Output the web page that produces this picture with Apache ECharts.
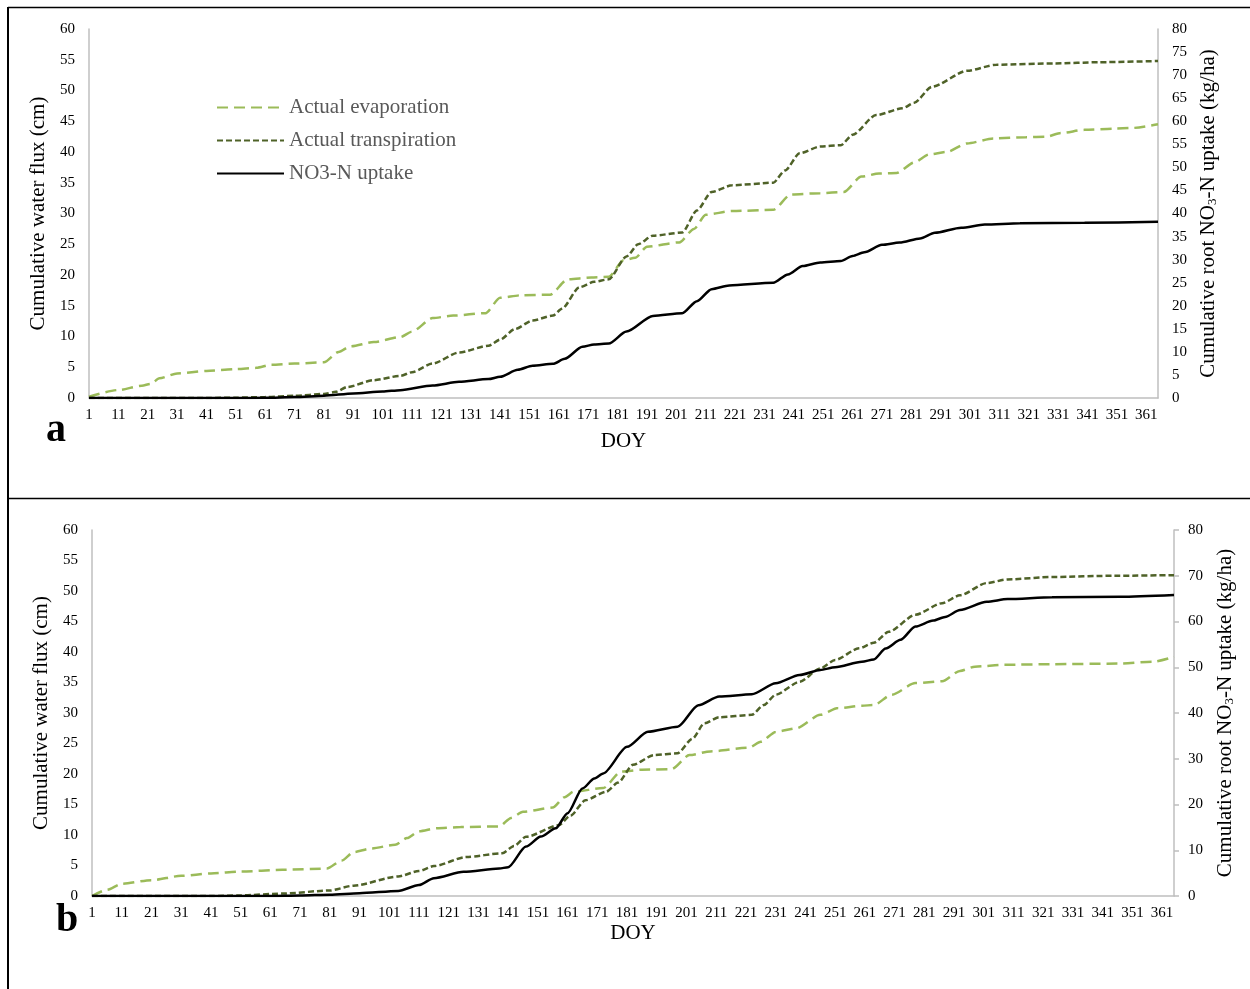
<!DOCTYPE html>
<html>
<head>
<meta charset="utf-8">
<script src="https://cdn.jsdelivr.net/npm/echarts@6/dist/echarts.min.js"></script>
<style>
html, body { margin: 0; padding: 0; background: #fff; }
#chart { width: 1250px; height: 989px; }
</style>
</head>
<body>
<div id="chart"></div>
<script>
// DOY categories 1..365
var doy = [];
for (var d = 1; d <= 365; d++) doy.push(String(d));

// panel a, cumulative water flux (cm), [DOY, value]
var evapA = [[1,0.2],[11,1.3],[19,2.0],[22,2.3],[25,3.2],[31,4.0],[41,4.4],[51,4.7],[58,4.9],[63,5.4],[71,5.6],[81,5.8],
	[86,7.5],[90,8.4],[98,9.1],[107,9.9],[111,10.8],[118,13.0],[125,13.4],[136,13.8],[141,16.3],[148,16.7],[158,16.8],
	[164,19.3],[172,19.6],[178,19.7],[183,22.4],[187,22.8],[191,24.6],[202,25.3],[207,27.5],[211,29.8],[220,30.4],
	[234,30.6],[240,33.1],[250,33.3],[258,33.5],[264,36.0],[270,36.5],[276,36.6],[282,38.3],[287,39.6],[293,40.0],
	[300,41.4],[309,42.2],[320,42.4],[327,42.5],[332,43.1],[340,43.6],[350,43.8],[356,43.9],[365,44.5]];
var transA = [[1,0],[21,0],[41,0],[51,0.05],[61,0.15],[71,0.35],[81,0.65],[85,1.0],[89,1.8],[98,2.9],[107,3.6],[111,4.2],
	[118,5.6],[127,7.4],[137,8.5],[141,9.5],[146,11.2],[152,12.6],[159,13.4],[162,14.5],[168,18.0],[173,18.9],[178,19.3],
	[184,23.0],[188,25.0],[193,26.4],[203,26.9],[208,30.5],[213,33.5],[220,34.6],[234,35.0],[238,37.0],[243,39.8],
	[250,40.9],[257,41.1],[261,42.8],[269,46.0],[278,47.1],[282,48.0],[288,50.6],[300,53.2],[310,54.2],[330,54.4],
	[345,54.6],[365,54.8]];
// panel a, cumulative root NO3-N uptake (kg/ha)
var no3A = [[1,0],[31,0],[51,0],[61,0.05],[71,0.2],[81,0.5],[91,1.0],[101,1.4],[107,1.7],[118,2.7],[127,3.5],[137,4.1],
	[141,4.6],[147,6.1],[152,7.0],[159,7.4],[163,8.5],[169,11.1],[173,11.6],[178,11.8],[184,14.4],[193,17.8],[203,18.4],
	[208,21.0],[213,23.6],[219,24.4],[234,25.0],[239,26.8],[244,28.6],[250,29.4],[257,29.7],[261,30.8],[265,31.6],
	[271,33.2],[277,33.7],[284,34.6],[289,35.8],[298,36.9],[306,37.6],[318,37.9],[340,38.0],[365,38.2]];

// panel b
var evapB = [[1,0],[6,1.0],[11,2.0],[21,2.6],[31,3.3],[41,3.7],[51,4.0],[65,4.3],[80,4.5],[85,5.8],[89,7.2],[95,7.8],
	[103,8.4],[107,9.5],[111,10.6],[117,11.1],[125,11.3],[138,11.4],[142,12.8],[146,13.8],[156,14.5],[160,16.2],
	[163,17.1],[173,17.7],[179,20.4],[186,20.7],[196,20.8],[202,23.1],[209,23.7],[222,24.3],[226,25.3],[231,26.9],
	[238,27.5],[246,29.7],[252,30.8],[260,31.2],[264,31.3],[270,33.0],[278,34.9],[287,35.2],[293,36.9],[298,37.6],
	[308,37.9],[324,38.0],[346,38.1],[358,38.4],[365,39.2]];
var transB = [[1,0],[41,0],[51,0.1],[65,0.4],[81,0.9],[89,1.7],[104,3.2],[111,4.1],[116,4.9],[127,6.4],[139,7.0],
	[143,8.2],[147,9.7],[158,11.6],[162,13.2],[167,15.7],[174,17.1],[178,18.6],[183,21.5],[190,23.1],[198,23.4],
	[203,25.8],[207,28.3],[212,29.3],[223,29.7],[227,31.3],[231,33.0],[239,35.1],[246,37.3],[251,38.7],[259,40.6],
	[264,41.5],[269,43.3],[278,46.1],[287,48.0],[293,49.3],[302,51.3],[309,51.9],[324,52.3],[345,52.5],[365,52.6]];
var no3B = [[1,0],[61,0],[71,0.1],[81,0.3],[91,0.6],[104,1.1],[111,2.4],[116,3.9],[126,5.3],[138,6.0],[141,6.3],
	[147,10.8],[152,13.0],[157,14.8],[161,18.1],[166,23.5],[170,25.7],[173,26.8],[181,32.6],[188,35.9],[198,37.0],
	[205,41.7],[212,43.6],[223,44.1],[231,46.5],[239,48.3],[246,49.4],[251,50.0],[260,51.2],[264,51.7],[268,54.1],
	[273,56.0],[278,58.9],[284,60.2],[288,61.0],[293,62.5],[302,64.3],[309,64.9],[324,65.3],[347,65.4],[365,65.8]];

var font = '"Liberation Serif", "Times New Roman", serif';
var axisGray = '#bfbfbf';
var lightGreen = '#9bbb59';
var darkGreen = '#4f6228';

function toPairs(arr) {
	return arr.map(function (p) { return [String(p[0]), p[1]]; });
}

function xAxis(gridIndex, nameGap) {
	return {
		type: 'category', gridIndex: gridIndex, data: doy, boundaryGap: false,
		name: 'DOY', nameLocation: 'middle', nameGap: nameGap,
		nameTextStyle: { fontFamily: font, fontSize: 21, color: '#000' },
		axisLine: { lineStyle: { color: axisGray, width: 1.5 } },
		axisTick: { show: false },
		axisLabel: { interval: 9, margin: 10, fontFamily: font, fontSize: 15, color: '#000', hideOverlap: false },
		splitLine: { show: false }
	};
}

function yAxis(gridIndex, pos, max, interval, name, nameGap, ticks) {
	return {
		type: 'value', gridIndex: gridIndex, position: pos, min: 0, max: max, interval: interval,
		name: name, nameLocation: 'middle', nameGap: nameGap, nameRotate: 90,
		nameTextStyle: {
			fontFamily: font, fontSize: 21, color: '#000',
			rich: { s: { fontFamily: font, fontSize: 13, color: '#000', padding: [8, 0, 0, 0], verticalAlign: 'bottom' } }
		},
		axisLine: { show: true, lineStyle: { color: axisGray, width: 1.5 } },
		axisTick: { show: ticks, length: 5, lineStyle: { color: axisGray, width: 1.5 } },
		axisLabel: { margin: 14, fontFamily: font, fontSize: 15, color: '#000' },
		splitLine: { show: false }
	};
}

function line(name, data, xi, yi, color, width, dash) {
	return {
		name: name, type: 'line', xAxisIndex: xi, yAxisIndex: yi, data: toPairs(data),
		symbol: 'none', smooth: 0.25, smoothMonotone: 'x',
		lineStyle: { color: color, width: width, type: dash || 'solid' },
		itemStyle: { color: color }
	};
}

var rightName = 'Cumulative root NO{s|3}-N uptake (kg/ha)';

var chart = echarts.init(document.getElementById('chart'));
chart.setOption({
	animation: false,
	backgroundColor: '#fff',
	grid: [
		{ left: 89, top: 29, width: 1069, height: 369 },
		{ left: 92, top: 530, width: 1082, height: 366 }
	],
	legend: {
		data: ['Actual evaporation', 'Actual transpiration', 'NO3-N uptake'],
		orient: 'vertical', left: 216, top: 97, padding: 0,
		itemWidth: 67, itemHeight: 14, itemGap: 12,
		itemStyle: { opacity: 0 },
		textStyle: { fontFamily: font, fontSize: 21, lineHeight: 21, color: '#595959' }
	},
	xAxis: [xAxis(0, 33), xAxis(1, 27)],
	yAxis: [
		yAxis(0, 'left', 60, 5, 'Cumulative water flux (cm)', 38, false),
		yAxis(0, 'right', 80, 5, rightName, 40, false),
		yAxis(1, 'left', 60, 5, 'Cumulative water flux (cm)', 39, false),
		yAxis(1, 'right', 80, 10, rightName, 41, true)
	],
	series: [
		line('Actual evaporation', evapA, 0, 0, lightGreen, 2.5, [11, 6]),
		line('Actual transpiration', transA, 0, 0, darkGreen, 2.5, [6, 3]),
		line('NO3-N uptake', no3A, 0, 1, '#000', 2.5),
		line('Actual evaporation', evapB, 1, 2, lightGreen, 2.5, [11, 6]),
		line('Actual transpiration', transB, 1, 2, darkGreen, 2.5, [6, 3]),
		line('NO3-N uptake', no3B, 1, 3, '#000', 2.5)
	],
	graphic: [
		{ type: 'line', shape: { x1: 8, y1: 7.5, x2: 1250, y2: 7.5 }, style: { stroke: '#000', lineWidth: 1.5 } },
		{ type: 'line', shape: { x1: 8, y1: 7, x2: 8, y2: 989 }, style: { stroke: '#000', lineWidth: 2 } },
		{ type: 'line', shape: { x1: 8, y1: 498.5, x2: 1250, y2: 498.5 }, style: { stroke: '#000', lineWidth: 1.5 } },
		{ type: 'text', left: 46, top: 411, style: { text: 'a', font: 'bold 40px ' + font, fill: '#000',
			shadowColor: 'rgba(0,0,0,0.45)', shadowBlur: 3, shadowOffsetX: 2, shadowOffsetY: 2 } },
		{ type: 'text', left: 56, top: 901, style: { text: 'b', font: 'bold 40px ' + font, fill: '#000',
			shadowColor: 'rgba(0,0,0,0.45)', shadowBlur: 3, shadowOffsetX: 2, shadowOffsetY: 2 } }
	]
});
</script>
</body>
</html>
